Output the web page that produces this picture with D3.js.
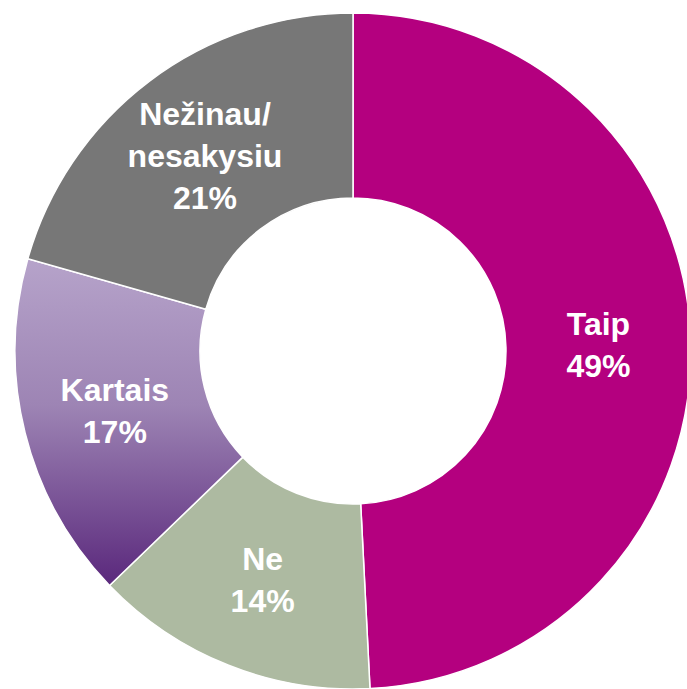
<!DOCTYPE html>
<html>
<head>
<meta charset="utf-8">
<script src="https://cdn.jsdelivr.net/npm/d3@7"></script>
<style>
  html, body { margin: 0; padding: 0; background: #fff; overflow: hidden; }
  svg { display: block; }
</style>
</head>
<body>
<svg id="chart"></svg>
<script>
// answers, in clockwise order from 12 o'clock
const categories = ["Taip", "Ne", "Kartais", "Nežinau/\nnesakysiu"];
const values = [49.2, 13.6, 16.6, 20.6];
const percentLabels = ["49%", "14%", "17%", "21%"];

const width = 687;
const height = 689;

const svg = d3.select("#chart")
  .attr("width", width)
  .attr("height", height);

/** Kartais gradient
------------------------------------------------------------*/

const defs = svg.append("defs");
const grad = defs.append("linearGradient")
  .attr("id", "kartaisGrad")
  .attr("x1", 0).attr("y1", 0)
  .attr("x2", 0).attr("y2", 1);
grad.append("stop").attr("offset", "0%").attr("stop-color", "#b6a3ca");
grad.append("stop").attr("offset", "45%").attr("stop-color", "#9d84b4");
grad.append("stop").attr("offset", "100%").attr("stop-color", "#5a287c");

const colors = ["#b4007f", "#adbaa1", "url(#kartaisGrad)", "#777777"];

/** Donut
------------------------------------------------------------*/

const cx = 353, cy = 351;
const outerR = 338, innerR = 153;

const pie = d3.pie().sort(null).value(d => d);
const arcs = pie(values);

const arc = d3.arc()
  .innerRadius(innerR)
  .outerRadius(outerR);

const g = svg.append("g")
  .attr("transform", `translate(${cx},${cy})`);

g.selectAll("path")
  .data(arcs)
  .enter().append("path")
  .attr("d", arc)
  .attr("fill", (d, i) => colors[i])
  .attr("stroke", "#ffffff")
  .attr("stroke-width", 1.5);

/** Labels
------------------------------------------------------------*/

const lineH = 42;
const capHalf = 11.5;

g.selectAll("text.lbl")
  .data(arcs)
  .enter().append("text")
  .attr("class", "lbl")
  .attr("text-anchor", "middle")
  .attr("fill", "#ffffff")
  .attr("font-family", "'Liberation Sans', Arial, sans-serif")
  .attr("font-weight", "bold")
  .attr("font-size", 32)
  .each(function (d, i) {
    const [x, y] = arc.centroid(d);
    const lines = categories[i].split("\n").concat([percentLabels[i]]);
    const text = d3.select(this);
    lines.forEach((line, k) => {
      text.append("tspan")
        .attr("x", x)
        .attr("y", y + (k - (lines.length - 1) / 2) * lineH + capHalf)
        .text(line);
    });
  });
</script>
</body>
</html>
